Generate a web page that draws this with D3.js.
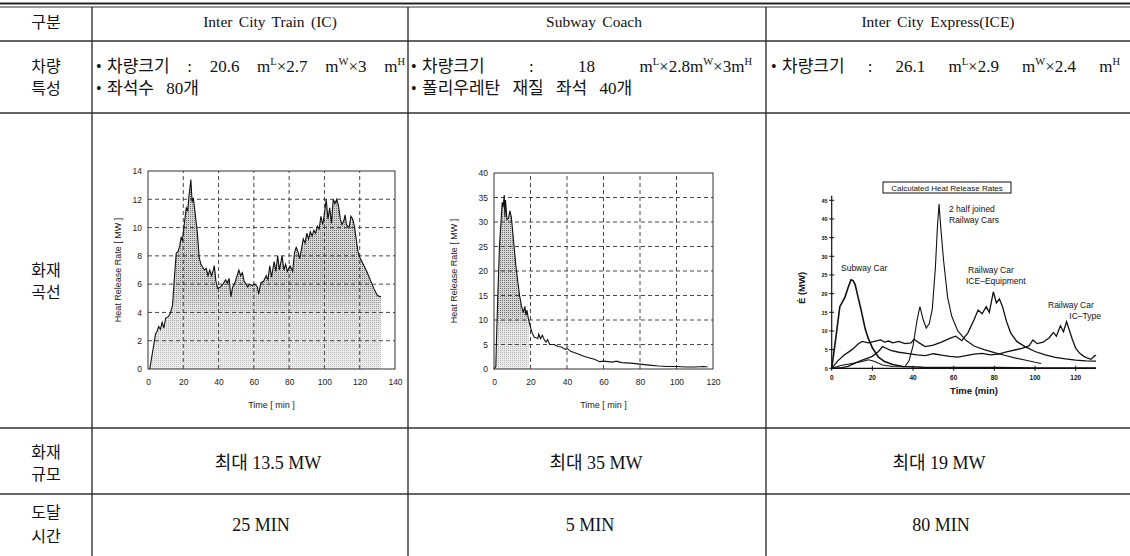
<!DOCTYPE html>
<html><head><meta charset="utf-8">
<script src="https://cdn.jsdelivr.net/npm/d3@7"></script>
<style>
html,body{margin:0;padding:0;background:#fff;}
svg{display:block;}
</style></head><body>
<svg id="c" width="1130" height="556"></svg>
<script>
// ---------------- DATA ----------------
const columnHeaders = ["Inter City Train (IC)", "Subway Coach", "Inter City Express(ICE)"];
const rowLabels = [["구분"], ["차량", "특성"], ["화재", "곡선"], ["화재", "규모"], ["도달", "시간"]];
const specIC = ["• 차량크기 : 20.6 m^L×2.7 m^W×3 m^H", "• 좌석수 80개"];
const specSubway = ["• 차량크기 : 18 m^L×2.8m^W×3m^H", "• 폴리우레탄 재질 좌석 40개"];
const specICE = ["• 차량크기 : 26.1 m^L×2.9 m^W×2.4 m^H"];
const maxHrr = ["최대 13.5 MW", "최대 35 MW", "최대 19 MW"];
const timeToPeak = ["25 MIN", "5 MIN", "80 MIN"];

// chart 1 : Inter City Train, [time min, MW]
const icXTicks = [0, 20, 40, 60, 80, 100, 120, 140];
const icYTicks = [0, 2, 4, 6, 8, 10, 12, 14];
const icSeries = [[1,0],[4.3,2.5],[5,2.6],[6,3.0],[7,2.8],[8,3.3],[9,2.9],[10,3.6],[11.5,3.7],[12.5,3.9],[13.9,4.5],[15,6.5],[16,8.2],[17,8.3],[18,8.7],[18.8,9.3],[19.5,9.1],[20.5,10.2],[21.7,11.4],[22.5,11.2],[23.3,12.3],[24.3,13.4],[25,11.8],[25.7,12.1],[27,10.7],[28,9.6],[29,7.9],[30,7.4],[31,7.2],[32,7.0],[33,7.1],[34,6.6],[35,7.0],[36,6.6],[37,7.0],[37.6,7.3],[38.5,6.2],[39.5,5.7],[41,5.8],[42.5,6.0],[44,6.3],[45,6.1],[46,6.4],[47,5.1],[48,5.8],[49,6.0],[50.5,6.6],[51.5,7.0],[52.5,6.6],[53.5,6.8],[54.5,6.2],[55.5,6.0],[56.5,5.8],[57.5,6.0],[59,5.9],[60.5,6.0],[62,5.8],[62.7,5.3],[64,6.1],[65.5,6.2],[67,6.6],[68,6.3],[69,7.3],[70,6.5],[71.5,7.6],[72.5,6.9],[73.5,8.0],[74.5,7.0],[76,8.0],[77,7.0],[78,7.4],[79,6.9],[80.5,7.3],[82,6.9],[83,8.2],[84,8.6],[85,8.3],[86,7.8],[87,8.5],[88,9.2],[89,8.9],[90,9.6],[91,9.2],[92,9.7],[93,9.4],[94,9.8],[95,9.6],[96,10.1],[97,9.9],[98,10.8],[99,10.2],[100,11.0],[101,12.0],[102,10.6],[103,11.4],[104,10.3],[105,12.0],[106,11.7],[107,12.0],[108,11.5],[109,10.6],[110,10.2],[111,10.5],[111.7,10.9],[112.5,10.2],[114,10.0],[115,10.8],[116,10.6],[117,10.1],[118,9.2],[119,8.3],[120,7.9],[122,7.4],[124,6.9],[126,6.3],[128,5.7],[130,5.2],[132,5.1]];

// chart 2 : Subway coach
const subXTicks = [0, 20, 40, 60, 80, 100, 120];
const subYTicks = [0, 5, 10, 15, 20, 25, 30, 35, 40];
const subwaySeries = [[0,0],[1,0.5],[1.3,5],[2,14],[3,25],[4,31],[4.5,34],[5,33],[5.6,35.5],[6,31],[6.3,34.5],[7.1,30.5],[8,30.8],[8.7,32.3],[9.5,31],[10,29],[11,25],[12,21],[13,18],[14,15],[15,13],[16,11.5],[16.9,12.8],[17.5,11],[18,12],[19,10],[20,8.5],[21,7.3],[22,6.5],[23,6.4],[24,6.2],[24.5,7.1],[25.5,6.2],[26.5,6.9],[27.5,6.0],[28.5,5.5],[29.4,6.0],[30.5,5.0],[33,5.0],[35,4.6],[37,4.5],[39,4.0],[40,4.2],[42,3.6],[45,3.2],[50,2.5],[55,2.0],[58,1.5],[60,1.6],[65,1.4],[67,1.6],[70,1.3],[75,1.2],[80,1.0],[85,0.8],[90,0.6],[95,0.5],[100,0.5],[105,0.4],[110,0.4],[115,0.5],[117,0.4]];
const subwayFillEnd = 19;

// chart 3 : calculated heat release rates
const iceXTicks = [0, 20, 40, 60, 80, 100, 120];
const iceYTicks = [0, 5, 10, 15, 20, 25, 30, 35, 40, 45];
const calcSubwayCar = [[0,0],[2,8],[4,16.5],[6.5,19],[8,21.5],[9.5,23.7],[10.5,23.5],[11.5,22.5],[13,19],[14.5,15.5],[16.5,10.5],[18,8],[20,5.5],[23,3],[26,1.8],[30,1],[35,0.5],[45,0.3],[60,0.2],[80,0.2],[100,0.1],[130,0.1]];
const calcTwoHalfCars = [[0,0],[5,0.8],[10,1.3],[15,1.8],[18,2.3],[20,2.0],[22,1.6],[25,0.9],[30,0.5],[36,0.4],[38,2],[40,6],[42,13],[43.4,16.5],[45,13],[46.5,10.8],[48,12],[49.5,16],[51,27],[52,38],[52.8,44],[53.6,38],[55,29],[57,19],[59,14],[62,10],[66,7.5],[70,6],[75,5],[80,4.2],[85,3.5],[90,2.8],[95,2.2],[100,1.6],[103,1.3]];
const calcIceEquipment = [[0,0],[3,2],[6,3.5],[10,5],[13,6.5],[15,7.2],[18,6.8],[21,7.2],[24,7.6],[26,7.0],[28,7.3],[30,6.8],[33,7.2],[36,6.6],[39,6.8],[40.5,7.8],[43,6.8],[46,5.8],[50,6.2],[54,7.0],[58,8.0],[61,8.6],[64,7.4],[67,9.5],[70,13],[72,15.6],[74,14.6],[76,16.5],[77.5,15],[79.5,20.5],[81,17.5],[82.5,18.6],[84,16.5],[86,12.5],[88,9.5],[91,7.2],[95,5.8],[100,4.5],[105,3.6],[110,2.9],[115,2.5],[120,2.2],[125,2.0],[130,1.9]];
const calcIcType = [[0,0],[5,0.2],[8,0.5],[12,1.5],[15,2.2],[18,2.8],[20,3.2],[23,4.5],[25,5.8],[27,5.3],[29,4.8],[33,4.3],[37,4.0],[42,3.6],[46,3.4],[50,3.9],[54,3.5],[58,3.2],[62,3.0],[66,3.4],[70,3.8],[74,4.0],[78,3.6],[82,3.8],[86,4.4],[90,4.9],[94,5.4],[97,6.0],[99,7.6],[101,6.6],[104,7.0],[107,8.2],[109,9.6],[110.5,8.6],[112.5,11.4],[114,9.8],[115.5,12.5],[117,10],[118.5,7.5],[120,5.4],[122,4.0],[124,3.2],[126,2.7],[127.5,2.4],[129,3.2],[130,3.5]];
const iceTitle = "Calculated Heat Release Rates";

// ---------------- DRAW ----------------
const W = 1130, H = 556;
const svg = d3.select("#c");
const serif = "'Liberation Serif','Times New Roman','Noto Sans CJK KR',serif";
const sans = "'Liberation Sans',Arial,Helvetica,sans-serif";
const colX = [0, 92, 408, 766, 1130];
const rowY = [7, 41, 113, 428, 494, 556];

// table lines
svg.append("line").attr("x1", 0).attr("x2", W).attr("y1", 3.5).attr("y2", 3.5).attr("stroke", "#222").attr("stroke-width", 2);
svg.append("line").attr("x1", 0).attr("x2", W).attr("y1", 7).attr("y2", 7).attr("stroke", "#333").attr("stroke-width", 1);
rowY.slice(1, 5).forEach(y => svg.append("line").attr("x1", 0).attr("x2", W).attr("y1", y).attr("y2", y).attr("stroke", "#333").attr("stroke-width", 1.3));
colX.slice(1, 4).forEach(x => svg.append("line").attr("x1", x).attr("x2", x).attr("y1", 7).attr("y2", H).attr("stroke", "#222").attr("stroke-width", 1.3));

// row labels (line centres)
const labelCentres = [[22], [66, 88], [270, 292], [452, 474], [512, 536]];
rowLabels.forEach((lines, i) => {
  lines.forEach((s, j) => {
    svg.append("text").attr("x", 46).attr("y", labelCentres[i][j] + 6)
      .attr("text-anchor", "middle").attr("font-family", serif).attr("font-size", 16).attr("fill", "#111").text(s);
  });
});

// headers
const headerX = [270, 594, 938];
columnHeaders.forEach((s, i) => {
  svg.append("text").attr("x", headerX[i]).attr("y", 27).attr("text-anchor", "middle")
    .attr("font-family", serif).attr("font-size", 15.5).attr("word-spacing", 2.5).attr("fill", "#111")
    .style("white-space", "pre").text(s);
});

// spec lines: bullet + body; superscripts via ^X; optional justification to a right edge
function specLine(x, y, str, right) {
  svg.append("text").attr("x", x).attr("y", y).attr("font-family", serif).attr("font-size", 16).attr("fill", "#111").text("•");
  const bx = x + 11;
  const body = str.replace(/^•\s*/, "");
  const t = svg.append("text").attr("x", bx).attr("y", y).attr("font-family", serif)
    .attr("font-size", 17).attr("fill", "#111").style("white-space", "pre");
  const parts = body.split(/\^(\w)/);
  let down = false;
  parts.forEach((p, i) => {
    if (!p) return;
    if (i % 2 === 1) { t.append("tspan").attr("dy", -7).attr("font-size", 10.5).text(p); down = true; return; }
    const ts = t.append("tspan").text(p);
    if (down) { ts.attr("dy", 7); down = false; }
  });
  const n = (body.match(/ /g) || []).length;
  if (right) {
    const w = t.node().getComputedTextLength();
    t.attr("word-spacing", Math.max(0, (right - bx - w) / n));
  } else {
    t.attr("word-spacing", 8);
  }
}
specLine(96, 72, specIC[0], 405);
specLine(96, 94, specIC[1]);
specLine(411, 72, specSubway[0], 752);
specLine(411, 94, specSubway[1]);
specLine(771, 72, specICE[0], 1120);

// bottom rows
const bottomX1 = [268, 596, 939];
const bottomX2 = [261, 590, 941];
maxHrr.forEach((s, i) => svg.append("text").attr("x", bottomX1[i]).attr("y", 469).attr("text-anchor", "middle")
  .attr("font-family", serif).attr("font-size", 18).attr("fill", "#111").text(s));
timeToPeak.forEach((s, i) => svg.append("text").attr("x", bottomX2[i]).attr("y", 531).attr("text-anchor", "middle")
  .attr("font-family", serif).attr("font-size", 18).attr("fill", "#111").text(s));

// defs: halftone pattern
const defs = svg.append("defs");
const pat = defs.append("pattern").attr("id", "dots").attr("width", 2).attr("height", 2).attr("patternUnits", "userSpaceOnUse");
pat.append("rect").attr("width", 2).attr("height", 2).attr("fill", "#d6d6d6");
pat.append("rect").attr("width", 1).attr("height", 1).attr("fill", "#6f6f6f");

function hrrChart(cfg) {
  const g = svg.append("g");
  const x = d3.scaleLinear().domain([0, cfg.xMax]).range([cfg.x0, cfg.x1]);
  const y = d3.scaleLinear().domain([0, cfg.yMax]).range([cfg.y0, cfg.y1]);
  const gid = cfg.id + "g", mid = cfg.id + "m";
  const grad = defs.append("linearGradient").attr("id", gid).attr("gradientUnits", "userSpaceOnUse")
    .attr("x1", 0).attr("x2", 0).attr("y1", cfg.y1).attr("y2", cfg.y0);
  cfg.stops.forEach(s => grad.append("stop").attr("offset", s[0]).attr("stop-color", s[1]));
  defs.append("mask").attr("id", mid).attr("maskUnits", "userSpaceOnUse")
    .attr("x", cfg.x0).attr("y", cfg.y1).attr("width", cfg.x1 - cfg.x0).attr("height", cfg.y0 - cfg.y1)
    .append("rect").attr("x", cfg.x0).attr("y", cfg.y1).attr("width", cfg.x1 - cfg.x0).attr("height", cfg.y0 - cfg.y1)
    .attr("fill", `url(#${gid})`);
  const fillData = cfg.data.filter(d => d[0] <= cfg.fillEnd);
  const area = d3.area().x(d => x(d[0])).y0(y(0)).y1(d => y(d[1]));
  g.append("path").datum(fillData).attr("d", area).attr("fill", "url(#dots)").attr("mask", `url(#${mid})`);
  // dashed grid
  g.selectAll(".gx").data(cfg.xTicks.slice(1, -1)).join("line").attr("x1", d => x(d)).attr("x2", d => x(d))
    .attr("y1", cfg.y0).attr("y2", cfg.y1).attr("stroke", "#333").attr("stroke-width", 0.9).attr("stroke-dasharray", "4,3");
  g.selectAll(".gy").data(cfg.yTicks.slice(1, -1)).join("line").attr("y1", d => y(d)).attr("y2", d => y(d))
    .attr("x1", cfg.x0).attr("x2", cfg.x1).attr("stroke", "#333").attr("stroke-width", 0.9).attr("stroke-dasharray", "4,3");
  // frame
  g.append("rect").attr("x", cfg.x0).attr("y", cfg.y1).attr("width", cfg.x1 - cfg.x0).attr("height", cfg.y0 - cfg.y1)
    .attr("fill", "none").attr("stroke", "#333").attr("stroke-width", 1);
  // line
  g.append("path").datum(cfg.data).attr("d", d3.line().x(d => x(d[0])).y(d => y(d[1])))
    .attr("fill", "none").attr("stroke", "#111").attr("stroke-width", 1.1);
  // axes labels
  const ax = g.append("g").attr("transform", `translate(0,${cfg.y0})`)
    .call(d3.axisBottom(x).tickValues(cfg.xTicks).tickSize(0).tickPadding(10).tickFormat(d3.format("d")));
  ax.select(".domain").remove();
  ax.selectAll("text").attr("font-family", sans).attr("font-size", 8.5).attr("fill", "#222");
  const ay = g.append("g").attr("transform", `translate(${cfg.x0},0)`)
    .call(d3.axisLeft(y).tickValues(cfg.yTicks).tickSize(0).tickPadding(6).tickFormat(d3.format("d")));
  ay.select(".domain").remove();
  ay.selectAll("text").attr("font-family", sans).attr("font-size", 8.5).attr("fill", "#222");
  g.append("text").attr("x", (cfg.x0 + cfg.x1) / 2).attr("y", cfg.xLabelY).attr("text-anchor", "middle")
    .attr("font-family", sans).attr("font-size", 9).attr("fill", "#222").style("white-space", "pre").text("Time [ min ]");
  g.append("text").attr("transform", `translate(${cfg.yLabelX},${(cfg.y0 + cfg.y1) / 2}) rotate(-90)`)
    .attr("text-anchor", "middle").attr("font-family", sans).attr("font-size", 9).attr("fill", "#222")
    .style("white-space", "pre").text("Heat Release Rate [ MW ]");
}

hrrChart({ id: "c1", data: icSeries, fillEnd: 200, xMax: 140, yMax: 14, x0: 148, x1: 395, y0: 369, y1: 171,
  xTicks: icXTicks, yTicks: icYTicks, xLabelY: 408, yLabelX: 121,
  stops: [[0, "#fff"], [0.55, "#fff"], [0.72, "#9a9a9a"], [1, "#6a6a6a"]] });
hrrChart({ id: "c2", data: subwaySeries, fillEnd: subwayFillEnd, xMax: 120, yMax: 40, x0: 494, x1: 713, y0: 369, y1: 173,
  xTicks: subXTicks, yTicks: subYTicks, xLabelY: 408, yLabelX: 457,
  stops: [[0, "#fff"], [0.72, "#fff"], [0.78, "#9a9a9a"], [1, "#777"]] });

// chart 3
(function () {
  const g = svg.append("g");
  const x = d3.scaleLinear().domain([0, 120]).range([831.7, 1075.7]);
  const y = d3.scaleLinear().domain([0, 45]).range([368.3, 200.3]);
  g.append("line").attr("x1", x(0)).attr("x2", x(0)).attr("y1", y(0)).attr("y2", y(46.2)).attr("stroke", "#111").attr("stroke-width", 1.2);
  g.append("line").attr("x1", x(0)).attr("x2", x(130)).attr("y1", y(0)).attr("y2", y(0)).attr("stroke", "#111").attr("stroke-width", 1.2);
  g.selectAll(".ty").data(iceYTicks).join("line").attr("x1", x(0) - 2.5).attr("x2", x(0) + 2.5)
    .attr("y1", d => y(d)).attr("y2", d => y(d)).attr("stroke", "#111").attr("stroke-width", 1);
  g.selectAll(".tx").data(iceXTicks).join("line").attr("x1", d => x(d)).attr("x2", d => x(d))
    .attr("y1", y(0) - 2.5).attr("y2", y(0) + 2.5).attr("stroke", "#111").attr("stroke-width", 1);
  g.selectAll(".ly").data(iceYTicks).join("text").attr("x", x(0) - 4).attr("y", d => y(d) + 2.2)
    .attr("text-anchor", "end").attr("font-family", sans).attr("font-weight", "bold").attr("font-size", 5.5).attr("fill", "#111").text(d => d);
  g.selectAll(".lx").data(iceXTicks).join("text").attr("x", d => x(d)).attr("y", y(0) + 12)
    .attr("text-anchor", "middle").attr("font-family", sans).attr("font-weight", "bold").attr("font-size", 6.5).attr("fill", "#111").text(d => d);
  const line = d3.line().x(d => x(d[0])).y(d => y(d[1]));
  [[calcSubwayCar, 1.6], [calcTwoHalfCars, 1.1], [calcIceEquipment, 1.3], [calcIcType, 1.3]].forEach(([d, w]) =>
    g.append("path").datum(d).attr("d", line).attr("fill", "none").attr("stroke", "#111").attr("stroke-width", w));
  // title box
  g.append("rect").attr("x", 883).attr("y", 182).attr("width", 128).attr("height", 11).attr("fill", "#fff").attr("stroke", "#111").attr("stroke-width", 1);
  g.append("text").attr("x", 947).attr("y", 190.5).attr("text-anchor", "middle").attr("font-family", sans)
    .attr("font-size", 8).attr("fill", "#111").text(iceTitle);
  const lab = (tx, ty, s, anchor) => g.append("text").attr("x", tx).attr("y", ty).attr("text-anchor", anchor || "start")
    .attr("font-family", sans).attr("font-size", 8.5).attr("fill", "#111").text(s);
  lab(949, 212, "2 half joined");
  lab(949, 223, "Railway Cars");
  lab(841, 271, "Subway Car");
  lab(968, 273, "Railway Car");
  lab(966, 284, "ICE–Equipment");
  lab(1048, 308, "Railway Car");
  lab(1101, 319, "IC–Type", "end");
  g.append("text").attr("x", 974).attr("y", 394).attr("text-anchor", "middle").attr("font-family", sans)
    .attr("font-weight", "bold").attr("font-size", 9.5).attr("fill", "#111").text("Time (min)");
  g.append("text").attr("transform", "translate(805,288) rotate(-90)").attr("text-anchor", "middle")
    .attr("font-family", sans).attr("font-weight", "bold").attr("font-size", 9.5).attr("fill", "#111").text("Ė (MW)");
})();
</script>
</body></html>
